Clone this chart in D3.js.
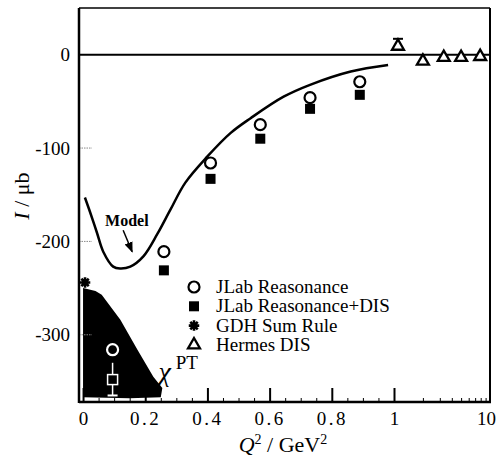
<!DOCTYPE html>
<html>
<head>
<meta charset="utf-8">
<script src="https://cdn.jsdelivr.net/npm/d3@7"></script>
<style>
  body { margin: 0; background: #fff; }
  text { font-family: "Liberation Serif", "Times New Roman", serif; fill: #000; }
</style>
</head>
<body>
<div id="chart"></div>
<script>
// data
const jlabQ2 = [0.095, 0.26, 0.41, 0.57, 0.73, 0.89];
const jlabRes = [-316, -211, -116, -75, -46, -29];
const jlabResDis = [-348, -231, -133, -90, -58, -43];

const gdhQ2 = [0];
const gdhVal = [-244];

const hermesQ2 = [1.1, 2.0, 3.3, 5.0, 7.9];
const hermesVal = [9, -7, -3, -3, -2];
const hermesErr = [8, 0, 0, 0, 0];

const modelQ2 = [0.006, 0.023, 0.045, 0.065, 0.097, 0.119, 0.152, 0.194, 0.239, 0.281, 0.329, 0.40, 0.474, 0.539, 0.645, 0.732, 0.861, 0.981];
const modelVal = [-153, -169, -191, -211, -227, -229, -227, -216, -192, -166, -137, -109, -84, -68, -45, -32, -18, -11];

// chiral PT band outline
const bandQ2 = [0, 0.04, 0.06, 0.12, 0.175, 0.226, 0.255, 0.25, 0.15, 0.0];
const bandVal = [-250, -253, -257, -284, -316, -345, -357, -367, -368, -367];

const xTicksLin = [0, 0.2, 0.4, 0.6, 0.8, 1];
const xTickLabels = ['0', '0.2', '0.4', '0.6', '0.8', '1'];
const yTicks = [0, -100, -200, -300];
const legendLabels = ['JLab Reasonance', 'JLab Reasonance+DIS', 'GDH Sum Rule', 'Hermes DIS'];

const W = 502, H = 458;
const L = 79, R = 490, T = 8, B = 402;

const xLin = d3.scaleLinear().domain([-0.013, 1]).range([L, 394]);
const xLog = d3.scaleLog().domain([1, 10]).range([394, R]);
const x = v => v <= 1 ? xLin(v) : xLog(v);
const y = d3.scaleLinear().domain([-372, 50]).range([B, T]);

const svg = d3.select('#chart').append('svg')
  .attr('width', W).attr('height', H);

// band
svg.append('path')
  .datum(bandQ2.map((q, i) => [q, bandVal[i]]))
  .attr('d', d3.line().x(d => x(d[0])).y(d => y(d[1])).curve(d3.curveLinearClosed))
  .attr('fill', '#000');

// dotted y ticks
svg.selectAll('line.ytick')
  .data(yTicks.slice(1))
  .enter().append('line')
  .attr('x1', L).attr('x2', L + 13)
  .attr('y1', d => y(d)).attr('y2', d => y(d))
  .attr('stroke', '#888').attr('stroke-width', 1)
  .attr('stroke-dasharray', '1.5,1');

// zero line
svg.append('line')
  .attr('x1', L).attr('x2', R)
  .attr('y1', y(0)).attr('y2', y(0))
  .attr('stroke', '#000').attr('stroke-width', 2);

// bottom axis, linear part
const minorLin = d3.range(0.05, 1, 0.05).filter(v => Math.abs(v * 5 - Math.round(v * 5)) > 1e-6);
svg.append('g')
  .attr('transform', `translate(0,${B})`)
  .call(d3.axisBottom(xLin).tickValues(minorLin).tickSize(-4).tickFormat(''))
  .call(g => g.select('.domain').remove())
  .selectAll('line').attr('stroke-width', 1);

const ax = svg.append('g')
  .attr('transform', `translate(0,${B})`)
  .call(d3.axisBottom(xLin).tickValues(xTicksLin).tickSize(-14)
    .tickFormat((d, i) => xTickLabels[i]).tickPadding(10))
  .call(g => g.select('.domain').remove());
ax.selectAll('line').attr('stroke-width', 2);
ax.selectAll('text')
  .attr('font-size', 19)
  .attr('letter-spacing', d => d > 0 && d < 1 ? 2.5 : 0);

// bottom axis, log part
const minorLog = d3.range(2, 10);
svg.append('g')
  .attr('transform', `translate(0,${B})`)
  .call(d3.axisBottom(xLog).tickValues(minorLog).tickSize(-4).tickFormat(''))
  .call(g => g.select('.domain').remove())
  .selectAll('line').attr('stroke-width', 1);

svg.append('g')
  .attr('transform', `translate(-4,${B})`)
  .call(d3.axisBottom(xLog).tickValues([10]).tickSize(0).tickFormat(d => String(d)).tickPadding(10))
  .call(g => g.select('.domain').remove())
  .selectAll('text')
  .attr('font-size', 19);

// left axis labels (plain hyphen as in the figure)
svg.append('g')
  .attr('transform', `translate(${L},0)`)
  .call(d3.axisLeft(y).tickValues(yTicks).tickSize(0).tickPadding(9).tickFormat(d => String(d)))
  .call(g => g.select('.domain').remove())
  .selectAll('text')
  .attr('font-size', 19);

// frame
svg.append('line').attr('x1', L).attr('x2', L).attr('y1', T).attr('y2', B + 1)
  .attr('stroke', '#000').attr('stroke-width', 2.5);
svg.append('line').attr('x1', L).attr('x2', R + 1).attr('y1', B).attr('y2', B)
  .attr('stroke', '#000').attr('stroke-width', 2.5);
svg.append('line').attr('x1', R).attr('x2', R).attr('y1', T).attr('y2', B)
  .attr('stroke', '#000').attr('stroke-width', 2);
svg.append('line').attr('x1', L).attr('x2', R).attr('y1', T).attr('y2', T)
  .attr('stroke', '#000').attr('stroke-width', 1.5);

// model curve
svg.append('path')
  .datum(modelQ2.map((q, i) => [q, modelVal[i]]))
  .attr('d', d3.line().x(d => x(d[0])).y(d => y(d[1])).curve(d3.curveCatmullRom))
  .attr('fill', 'none').attr('stroke', '#000').attr('stroke-width', 2.5);

// model label and arrow
svg.append('defs').append('marker')
  .attr('id', 'arrow').attr('viewBox', '0 0 10 10')
  .attr('refX', 9).attr('refY', 5)
  .attr('markerWidth', 7).attr('markerHeight', 7)
  .attr('orient', 'auto')
  .append('path').attr('d', 'M0,1 L10,5 L0,9 z').attr('fill', '#000');

svg.append('text')
  .attr('x', x(0.071)).attr('y', y(-183))
  .attr('font-size', 16).attr('font-weight', 'bold')
  .text('Model');
svg.append('line')
  .attr('x1', x(0.129)).attr('y1', y(-188))
  .attr('x2', x(0.158)).attr('y2', y(-211))
  .attr('stroke', '#000').attr('stroke-width', 1.5)
  .attr('marker-end', 'url(#arrow)');

// chi PT label
svg.append('text')
  .attr('x', x(0.243)).attr('y', y(-350))
  .attr('font-size', 28).attr('font-style', 'italic')
  .text('χ');
svg.append('text')
  .attr('x', x(0.298)).attr('y', y(-337))
  .attr('font-size', 19)
  .text('PT');

// JLab points; the one inside the black band is drawn in white
const inBand = q => q < 0.2;
svg.selectAll('line.jerr')
  .data(jlabQ2.filter(inBand))
  .enter().append('line')
  .attr('x1', d => x(d)).attr('x2', d => x(d))
  .attr('y1', y(-330)).attr('y2', y(-365))
  .attr('stroke', '#fff').attr('stroke-width', 1.5);
svg.selectAll('line.jcap')
  .data(jlabQ2.filter(inBand))
  .enter().append('line')
  .attr('x1', d => x(d) - 5).attr('x2', d => x(d) + 5)
  .attr('y1', y(-365)).attr('y2', y(-365))
  .attr('stroke', '#fff').attr('stroke-width', 2);

svg.selectAll('rect.sq')
  .data(jlabQ2.map((q, i) => [q, jlabResDis[i]]))
  .enter().append('rect')
  .attr('x', d => x(d[0]) - 5).attr('y', d => y(d[1]) - 5)
  .attr('width', 10).attr('height', 10)
  .attr('fill', '#000')
  .attr('stroke', d => inBand(d[0]) ? '#fff' : 'none').attr('stroke-width', 1.5);

svg.selectAll('circle.res')
  .data(jlabQ2.map((q, i) => [q, jlabRes[i]]))
  .enter().append('circle')
  .attr('cx', d => x(d[0])).attr('cy', d => y(d[1]))
  .attr('r', 5.5)
  .attr('fill', d => inBand(d[0]) ? 'none' : '#fff')
  .attr('stroke', d => inBand(d[0]) ? '#fff' : '#000').attr('stroke-width', 2.2);

// GDH sum rule: eight-armed star
const star8 = {
  draw(ctx, size) {
    const r = Math.sqrt(size) / 2;
    for (let k = 0; k < 4; k++) {
      const a = k * Math.PI / 4;
      ctx.moveTo(-r * Math.cos(a), -r * Math.sin(a));
      ctx.lineTo(r * Math.cos(a), r * Math.sin(a));
    }
  }
};
const star = d3.symbol().type(star8).size(110);
svg.selectAll('path.gdh')
  .data(gdhQ2.map((q, i) => [q, gdhVal[i]]))
  .enter().append('path')
  .attr('transform', d => `translate(${x(d[0]) + 2},${y(d[1])})`)
  .attr('d', star)
  .attr('fill', 'none').attr('stroke', '#000').attr('stroke-width', 2.6);

// Hermes
svg.selectAll('g.herr')
  .data(hermesQ2.map((q, i) => [q, hermesVal[i], hermesErr[i]]).filter(d => d[2] > 0))
  .enter().append('g')
  .each(function (d) {
    const g = d3.select(this);
    g.append('line').attr('x1', x(d[0])).attr('x2', x(d[0]))
      .attr('y1', y(d[1])).attr('y2', y(d[1] + d[2]))
      .attr('stroke', '#000').attr('stroke-width', 2);
    g.append('line').attr('x1', x(d[0]) - 5).attr('x2', x(d[0]) + 5)
      .attr('y1', y(d[1] + d[2])).attr('y2', y(d[1] + d[2]))
      .attr('stroke', '#000').attr('stroke-width', 2);
  });
const tri = d3.symbol().type(d3.symbolTriangle).size(62);
svg.selectAll('path.her')
  .data(hermesQ2.map((q, i) => [q, hermesVal[i]]))
  .enter().append('path')
  .attr('transform', d => `translate(${x(d[0])},${y(d[1])})`)
  .attr('d', tri)
  .attr('fill', '#fff').attr('stroke', '#000').attr('stroke-width', 2.3);

// legend
const lg = svg.append('g').attr('transform', 'translate(194,287)');
const rows = lg.selectAll('g').data(legendLabels).enter().append('g')
  .attr('transform', (d, i) => `translate(0,${i * 19.3})`);
rows.append('text')
  .attr('x', 22).attr('y', 6)
  .attr('font-size', 19)
  .text(d => d);
rows.filter((d, i) => i === 0).append('circle')
  .attr('r', 5.5).attr('fill', '#fff').attr('stroke', '#000').attr('stroke-width', 2.2);
rows.filter((d, i) => i === 1).append('rect')
  .attr('x', -5).attr('y', -5).attr('width', 10).attr('height', 10).attr('fill', '#000');
rows.filter((d, i) => i === 2).append('path')
  .attr('d', star).attr('fill', 'none').attr('stroke', '#000').attr('stroke-width', 2.6);
rows.filter((d, i) => i === 3).append('path')
  .attr('d', tri).attr('fill', '#fff').attr('stroke', '#000').attr('stroke-width', 2.3);

// axis titles
const xt = svg.append('text')
  .attr('x', 283).attr('y', 452)
  .attr('text-anchor', 'middle')
  .attr('font-size', 22);
xt.append('tspan').attr('font-style', 'italic').text('Q');
xt.append('tspan').attr('font-size', 14).attr('dy', -8).text('2');
xt.append('tspan').attr('dy', 8).text(' / GeV');
xt.append('tspan').attr('font-size', 14).attr('dy', -8).text('2');

const yt = svg.append('text')
  .attr('transform', 'translate(29,196) rotate(-90)')
  .attr('text-anchor', 'middle')
  .attr('font-size', 22);
yt.append('tspan').attr('font-style', 'italic').text('I');
yt.append('tspan').text(' / μb');
</script>
</body>
</html>
